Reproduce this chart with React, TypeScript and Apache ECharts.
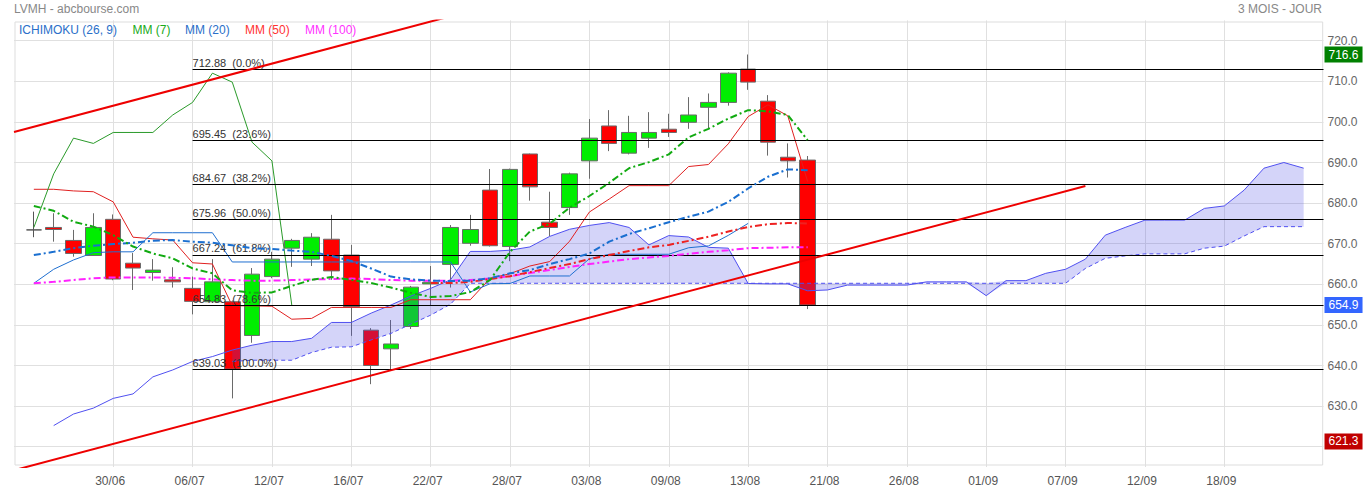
import React, { useEffect, useRef } from 'react';
import * as echarts from 'echarts';

// ---------- data ----------
const xTickLabels = ['30/06', '06/07', '12/07', '16/07', '22/07', '28/07', '03/08', '09/08', '13/08', '21/08', '26/08', '01/09', '07/09', '12/09', '18/09'];

const candleOpen = [673.4, 674.0, 670.8, 667.1, 676.0, 665.2, 662.9, 661.1, 659.0, 655.7, 655.7, 647.4, 661.9, 668.9, 666.2, 671.1, 667.2, 648.7, 644.1, 649.6, 660.1, 664.9, 670.1, 683.2, 669.3, 692.1, 675.3, 678.9, 690.4, 699.0, 692.3, 696.0, 698.2, 699.9, 703.6, 704.8, 713.0, 705.1, 691.3, 690.6];
const candleClose = [673.4, 673.5, 667.6, 674.0, 661.3, 664.0, 663.5, 660.6, 655.8, 660.6, 639.1, 662.5, 666.2, 670.8, 671.6, 663.3, 654.5, 640.0, 645.3, 659.3, 660.5, 674.0, 673.5, 669.5, 688.3, 684.0, 674.0, 687.2, 696.0, 694.7, 697.4, 697.4, 697.4, 701.7, 704.8, 712.0, 709.8, 695.0, 690.4, 654.9];
const candleLow = [671.6, 670.5, 666.8, 667.0, 661.0, 658.6, 660.9, 659.2, 652.6, 655.5, 631.9, 645.6, 661.5, 664.3, 664.5, 661.1, 647.3, 635.4, 639.0, 649.0, 654.9, 659.2, 669.5, 669.3, 665.7, 680.6, 671.9, 677.1, 686.0, 692.8, 692.0, 693.6, 696.3, 698.3, 698.4, 704.0, 707.9, 691.7, 686.3, 653.9];
const candleHigh = [677.9, 677.5, 673.4, 677.5, 677.2, 667.7, 666.2, 664.2, 661.9, 666.2, 656.0, 664.0, 668.0, 671.2, 672.6, 677.1, 669.7, 649.2, 651.2, 659.6, 664.5, 674.6, 677.1, 688.4, 688.5, 692.2, 682.8, 687.5, 700.7, 702.9, 701.5, 702.4, 702.0, 706.1, 707.0, 712.2, 716.6, 706.6, 694.7, 691.6];

// Ichimoku (26, 9)
const tenkan = [683.4, 683.4, 683.0, 682.8, 680.3, 671.6, 671.2, 670.9, 665.3, 665.0, 654.7, 654.7, 654.6, 651.4, 651.6, 654.3, 654.3, 654.3, 654.3, 656.2, 656.2, 656.2, 656.2, 661.5, 662.6, 664.5, 665.6, 670.6, 677.8, 681.0, 684.3, 684.3, 684.3, 689.0, 689.5, 694.6, 701.3, 704.2, 701.5, 685.3];
const kijun = [660.25, 663.7, 666.0, 667.8, 668.0, 668.0, 672.7, 672.7, 672.7, 672.7, 665.5, 665.5, 665.5, 665.5, 665.5, 665.5, 665.5, 665.5, 665.5, 665.5, 665.5, 665.5, 658.1, 660.15, 660.2, 662.05, 662.05, 662.05, 666.3, 667.4, 667.4, 667.4, 667.4, 669.0, 669.45, 672.05, 675.0];
const chikouLag = 26;
const spanAStart = 1;
const spanA = [625.2, 628.05, 629.5, 631.9, 633.0, 637.2, 638.9, 641.0, 642.2, 643.8, 645.0, 645.9, 645.9, 646.7, 650.6, 650.6, 652.9, 654.9, 657.1, 659.0, 661.1, 668.1, 668.1, 668.4, 669.2, 671.8, 673.55, 674.5, 675.2, 674.0, 669.7, 672.0, 671.65, 669.1, 668.9, 660.2, 660.1, 660.1, 658.4, 658.6, 659.8, 659.8, 659.8, 659.8, 660.6, 660.6, 660.6, 657.2, 660.9, 660.9, 662.7, 663.7, 666.2, 672.1, 674.0, 675.8, 675.8, 675.8, 678.7, 679.3, 683.2, 688.6, 690.0, 688.6];
const spanBStart = 10;
const spanB = [641.0, 641.3, 641.3, 641.3, 643.2, 644.5, 644.6, 646.3, 647.9, 650.2, 652.4, 655.1, 660.25, 660.25, 660.25, 660.25, 660.25, 660.25, 660.25, 660.25, 660.25, 660.25, 660.25, 660.25, 660.25, 660.25, 660.25, 660.25, 660.25, 660.25, 660.25, 660.25, 660.25, 660.25, 660.25, 660.25, 660.25, 660.25, 660.25, 660.25, 660.25, 660.25, 660.25, 663.9, 666.4, 667.0, 667.5, 667.5, 667.5, 668.9, 669.4, 671.9, 674.2, 674.2, 674.2];

// Moving averages
const mm7 = [679.3, 678.1, 675.4, 674.2, 672.1, 669.3, 667.6, 666.4, 663.9, 662.7, 658.5, 657.9, 658.0, 659.6, 661.1, 661.8, 661.1, 660.3, 659.2, 657.9, 656.9, 657.1, 658.1, 661.1, 668.0, 673.0, 674.9, 678.9, 681.75, 685.0, 688.6, 690.1, 692.0, 696.2, 698.3, 700.8, 702.9, 702.6, 701.7, 695.5];
const mm20 = [667.2, 668.0, 668.9, 669.5, 669.9, 670.25, 670.75, 670.9, 670.5, 670.25, 669.6, 668.9, 668.7, 668.3, 668.0, 667.0, 665.75, 663.9, 661.9, 661.2, 660.9, 660.8, 660.9, 661.5, 662.7, 663.5, 665.0, 666.2, 667.6, 670.5, 672.4, 673.8, 675.3, 676.65, 677.9, 680.3, 683.6, 686.5, 688.3, 688.1];
const mm50Start = 20;
const mm50 = [660.3, 660.3, 660.6, 661.3, 662.0, 663.0, 664.0, 665.0, 666.2, 667.2, 668.2, 669.1, 669.7, 670.7, 671.7, 673.0, 674.1, 674.8, 675.1, 675.0];
const mm100 = [660.25, 660.6, 661.05, 661.5, 661.7, 661.7, 661.7, 661.6, 661.5, 661.2, 661.05, 660.9, 660.9, 661.05, 661.2, 661.3, 661.4, 661.3, 661.05, 660.9, 660.9, 660.9, 661.05, 661.4, 662.0, 662.8, 663.5, 664.25, 665.0, 665.6, 666.2, 666.6, 667.0, 667.5, 668.0, 668.4, 668.9, 669.0, 669.1, 669.1];

// Fibonacci retracement
const fibLevels = [712.88, 695.45, 684.67, 675.96, 667.24, 654.83, 639.03];
const fibPercents = [0.0, 23.6, 38.2, 50.0, 61.8, 78.6, 100.0];
const fibStartDay = 8;

// Trend channel (day index, price)
const trendUpper = [[-1, 697.5], [25, 731.2]];
const trendLower = [[-1, 614.2], [53, 684.2]];

// Right-axis value tags
const tagValues = [716.6, 654.9, 621.3];
const tagColors = ['#008000', '#3366ff', '#c00000'];

// Y-axis tick labels shown (620 is hidden under the 621.3 tag in the original)
const yLabelMin = 630;
const yLabelMax = 720;

// axis layout
const firstDay = -1;
const lastDay = 65;
const labelEvery = 4;
const firstLabelDay = 4;

const FONT = 'Liberation Sans, Arial, Helvetica, sans-serif';

export default function App() {
  const ref = useRef<HTMLDivElement>(null);

  useEffect(() => {
    const chart = echarts.init(ref.current!, null, { renderer: 'svg' });
    const idx = (k: number) => k - firstDay;
    const nCat = lastDay - firstDay + 1;
    const categories = Array.from({ length: nCat }, (_, i) => String(i + firstDay));
    const labelFor = (k: number) => {
      if (k < firstLabelDay || (k - firstLabelDay) % labelEvery !== 0) return null;
      const j = (k - firstLabelDay) / labelEvery;
      return j < xTickLabels.length ? xTickLabels[j] : null;
    };
    const pts = (vals: number[], startK: number) => vals.map((v, i) => [idx(startK + i), v]);

    const candles = candleClose.map((c, i) => [idx(i), candleOpen[i], c, candleLow[i], candleHigh[i]]);
    const chikou = candleClose.slice(chikouLag);

    const cloudBase: number[][] = [];
    const cloudBand: number[][] = [];
    for (let k = spanBStart; k < spanAStart + spanA.length; k++) {
      const a = spanA[k - spanAStart];
      const b = spanB[k - spanBStart];
      cloudBase.push([idx(k), Math.min(a, b)]);
      cloudBand.push([idx(k), Math.abs(a - b)]);
    }

    const thin = (name: string, data: number[][], color: string, z = 4, type: any = 'solid', width = 1) => ({
      name, type: 'line', data, symbol: 'none', z, silent: true,
      lineStyle: { color, width, type },
    });
    const dashDot = [7, 3, 2, 3];

    const option: any = {
      animation: false,
      grid: { left: 14, right: 47.5, top: 20.4, bottom: 22, show: false },
      xAxis: {
        type: 'category',
        data: categories,
        boundaryGap: false,
        axisLine: { show: false },
        axisTick: { show: false },
        axisLabel: {
          color: '#555', fontSize: 12, fontFamily: FONT, margin: 8, padding: [0, 6, 0, 0],
          interval: (i: number) => labelFor(i + firstDay) !== null,
          formatter: (v: string) => labelFor(Number(v)) ?? '',
        },
        splitLine: {
          show: true,
          interval: (i: number) => labelFor(i + firstDay) !== null,
          lineStyle: { color: '#e0e0e0', width: 1 },
        },
      },
      yAxis: {
        type: 'value',
        position: 'right',
        min: 615, max: 725, interval: 5,
        axisLine: { show: false },
        axisTick: { show: false },
        axisLabel: {
          color: '#666', fontSize: 12, fontFamily: FONT, margin: 4,
          formatter: (v: number) => (Math.round(v) % 10 === 0 && v >= yLabelMin && v <= yLabelMax ? v.toFixed(1) : ''),
        },
        splitLine: { show: true, lineStyle: { color: ['rgba(0,0,0,0)', '#e0e0e0'], width: 1 } },
      },
      graphic: [
        { type: 'rect', z: 0, shape: { x: 15, y: 22, width: 1307.7, height: 443 }, style: { fill: 'none', stroke: '#dddddd', lineWidth: 1 } },
        { type: 'text', x: 14, y: 9, style: { text: 'LVMH - abcbourse.com', fill: '#888', fontSize: 12, fontFamily: FONT, verticalAlign: 'middle' } },
        { type: 'text', x: 1322, y: 9, style: { text: '3 MOIS - JOUR', fill: '#888', fontSize: 12, fontFamily: FONT, align: 'right', verticalAlign: 'middle' } },
        { type: 'text', x: 19, y: 30, z: 20, style: { text: 'ICHIMOKU (26, 9)', fill: '#2a6fc9', fontSize: 12, fontFamily: FONT, verticalAlign: 'middle' } },
        { type: 'text', x: 132.5, y: 30, z: 20, style: { text: 'MM (7)', fill: '#1aaa1a', fontSize: 12, fontFamily: FONT, verticalAlign: 'middle' } },
        { type: 'text', x: 185, y: 30, z: 20, style: { text: 'MM (20)', fill: '#2a6fc9', fontSize: 12, fontFamily: FONT, verticalAlign: 'middle' } },
        { type: 'text', x: 245, y: 30, z: 20, style: { text: 'MM (50)', fill: '#ff3333', fontSize: 12, fontFamily: FONT, verticalAlign: 'middle' } },
        { type: 'text', x: 305, y: 30, z: 20, style: { text: 'MM (100)', fill: '#ff33ff', fontSize: 12, fontFamily: FONT, verticalAlign: 'middle' } },
      ],
      series: [
        {
          name: 'fib', type: 'line', data: [], z: 1, silent: true,
          markLine: {
            silent: true, symbol: 'none', animation: false,
            lineStyle: { color: '#000', width: 1, type: 'solid' },
            label: { show: true, position: 'insideStartTop', color: '#333', fontSize: 11, fontFamily: FONT, distance: [0, 1], formatter: '{b}' },
            emphasis: { disabled: true },
            data: fibLevels.map((v, i) => [
              { coord: [idx(fibStartDay), v], name: `${v.toFixed(2)}\u00a0\u00a0(${fibPercents[i].toFixed(1)}%)` },
              { coord: [idx(lastDay), v] },
            ]),
          },
        },
        {
          name: 'LVMH', type: 'candlestick', z: 2, silent: true,
          data: candles,
          encode: { x: 0, y: [1, 2, 3, 4] },
          barWidth: 16,
          itemStyle: { color: '#00ee00', color0: '#ff0000', borderColor: '#6a6a6a', borderColor0: '#6a6a6a', borderColorDoji: '#555', borderWidth: 1 },
        },
        { name: 'cloudBase', type: 'line', stack: 'cloud', data: cloudBase, symbol: 'none', z: 3, silent: true, lineStyle: { width: 0, opacity: 0 } },
        { name: 'cloudBand', type: 'line', stack: 'cloud', data: cloudBand, symbol: 'none', z: 3, silent: true, lineStyle: { width: 0, opacity: 0 }, areaStyle: { color: 'rgba(70,70,230,0.33)' } },
        thin('spanA', pts(spanA, spanAStart), '#5050f0', 3),
        thin('spanB', pts(spanB, spanBStart), '#5050f0', 3, [4, 3]),
        thin('tenkan', pts(tenkan, 0), '#e02020', 4),
        thin('kijun', pts(kijun, 0), '#1f6fd0', 4),
        thin('chikou', pts(chikou, 0), '#2a9a2a', 4),
        thin('mm100', pts(mm100, 0), '#ff22ff', 5, dashDot, 2),
        thin('mm50', pts(mm50, mm50Start), '#ee2222', 5, dashDot, 2),
        thin('mm20', pts(mm20, 0), '#1a6fd0', 5, dashDot, 2),
        thin('mm7', pts(mm7, 0), '#11aa11', 5, dashDot, 2),
        thin('trendUpper', trendUpper.map(([k, v]) => [idx(k), v]), '#ee0000', 6, 'solid', 2),
        thin('trendLower', trendLower.map(([k, v]) => [idx(k), v]), '#ee0000', 6, 'solid', 2),
        {
          name: 'tags', type: 'line', data: [], z: 10, silent: true,
          markLine: {
            silent: true, symbol: 'none', animation: false,
            lineStyle: { color: 'rgba(0,0,0,0)', width: 1 },
            emphasis: { disabled: true },
            data: tagValues.map((v, i) => ({
              yAxis: v,
              label: {
                show: true, position: 'end', distance: 1, formatter: v.toFixed(1),
                color: '#ffffff', backgroundColor: tagColors[i], fontSize: 12, fontFamily: FONT,
                padding: [2, 4, 1, 4], lineHeight: 13,
              },
            })),
          },
        },
      ],
    };
    chart.setOption(option);
    return () => chart.dispose();
  }, []);

  return <div ref={ref} style={{ position: 'absolute', left: 0, top: 0, width: 1371, height: 489 }} />;
}
